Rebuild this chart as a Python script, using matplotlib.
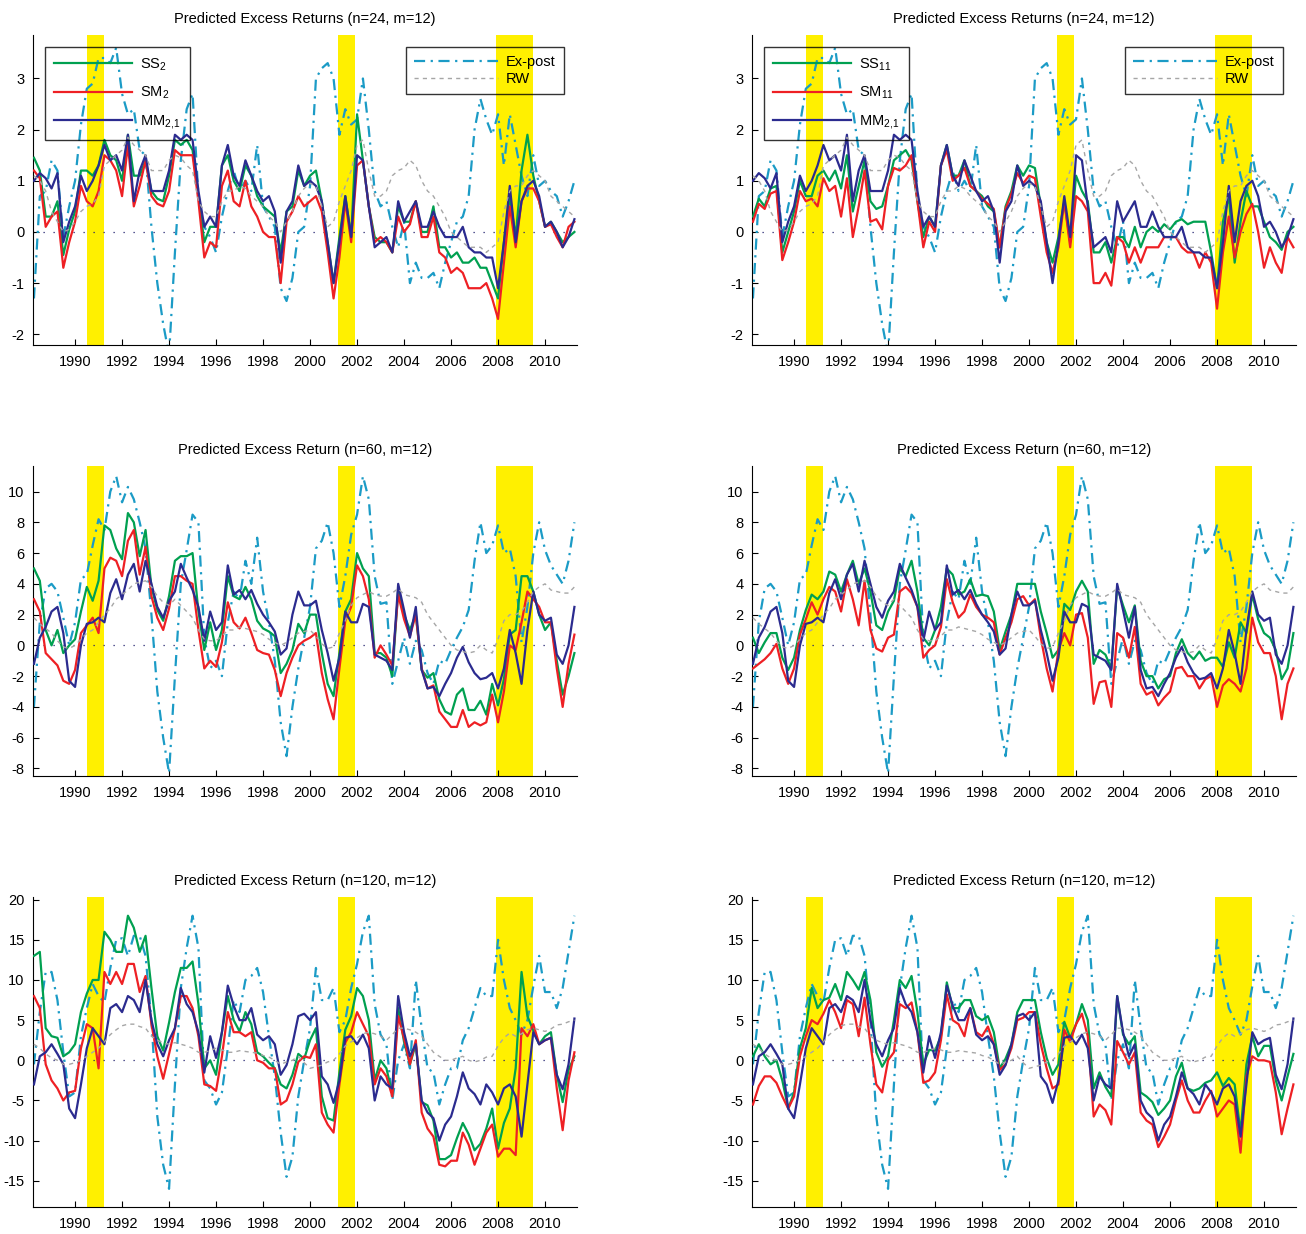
import numpy as np
import matplotlib
matplotlib.use('Agg')
import matplotlib.pyplot as plt
from matplotlib.ticker import MultipleLocator

plt.rcParams['font.family'] = ['Liberation Sans', 'DejaVu Sans']
plt.rcParams['mathtext.default'] = 'regular'
plt.rcParams['axes.unicode_minus'] = False

# quarterly sample points, 1988Q2 .. 2011Q2
dates = 1988.25 + 0.25 * np.arange(93)
recessions = [(1990.5, 1991.25), (2001.17, 2001.92), (2007.92, 2009.5)]
year_ticks = list(range(1990, 2011, 2))

# ---------------- n = 24 ----------------
mm_24 = [1.0, 1.15, 1.05,
         0.85, 1.15, -0.2, 0.2,   0.5, 1.1, 0.8, 1.0,   1.3, 1.7, 1.4, 1.5,
         1.2, 1.9, 0.6, 1.2,      1.5, 0.8, 0.8, 0.8,   1.2, 1.9, 1.8, 1.9,
         1.8, 0.8, 0.1, 0.3,      0.1, 1.3, 1.7, 1.1,   0.9, 1.4, 1.1, 0.8,
         0.6, 0.7, 0.4, -0.6,     0.4, 0.6, 1.3, 0.9,   1.0, 0.9, 0.6, -0.2,
         -1.0, -0.2, 0.7, -0.1,   1.5, 1.4, 0.5, -0.3,  -0.2, -0.1, -0.4, 0.6,
         0.2, 0.4, 0.6, 0.1,      0.1, 0.4, 0.1, -0.1,  -0.1, -0.1, 0.1, -0.3,
         -0.4, -0.4, -0.5, -0.5,  -1.1, -0.2, 0.9, -0.2, 0.6, 0.9, 1.0, 0.7,
         0.1, 0.2, 0.0, -0.3,     -0.1, 0.25]
ss2_24 = [1.45, 1.2, 0.3,
          0.3, 0.6, -0.45, 0.05,  0.4, 1.2, 1.2, 1.1,   1.3, 1.8, 1.5, 1.4,
          1.0, 1.9, 1.1, 1.1,     1.4, 0.8, 0.65, 0.6,  1.1, 1.8, 1.7, 1.8,
          1.6, 0.7, -0.2, 0.1,    0.1, 1.3, 1.5, 1.0,   0.8, 1.3, 1.1, 0.7,
          0.5, 0.4, 0.3, -0.4,    0.4, 0.5, 1.2, 0.9,   1.1, 1.2, 0.6, -0.2,
          -1.0, -0.1, 0.7, -0.1,  2.3, 1.4, 0.5, -0.1,  -0.2, -0.2, -0.4, 0.5,
          0.2, 0.2, 0.6, 0.0,     0.0, 0.5, -0.3, -0.3, -0.5, -0.4, -0.6, -0.6,
          -0.5, -0.7, -0.7, -1.0, -1.3, -0.2, 0.7, -0.1, 1.2, 1.9, 1.1, 0.6,
          0.1, 0.2, 0.0, -0.2,    -0.1, 0.0]
sm2_24 = [1.2, 1.05, 0.1,
          0.3, 0.4, -0.7, -0.2,   0.2, 0.9, 0.6, 0.5,   0.8, 1.5, 1.4, 1.2,
          0.7, 1.7, 0.5, 0.9,     1.4, 0.7, 0.55, 0.5,  0.8, 1.6, 1.5, 1.5,
          1.5, 0.6, -0.5, -0.2,   -0.3, 0.9, 1.2, 0.6,  0.5, 1.0, 0.5, 0.3,
          0.0, -0.1, -0.1, -1.0,  0.2, 0.4, 0.7, 0.5,   0.6, 0.7, 0.4, -0.4,
          -1.3, -0.5, 0.6, -0.2,  1.3, 1.4, 0.5, -0.2,  -0.1, -0.2, -0.4, 0.3,
          0.0, 0.15, 0.6, -0.1,   -0.1, 0.3, -0.4, -0.5, -0.8, -0.7, -0.8, -1.1,
          -1.1, -1.1, -1.0, -1.3, -1.7, -0.6, 0.5, -0.3, 0.6, 0.85, 0.85, 0.6,
          0.1, 0.15, -0.1, -0.3,  0.1, 0.2]
ss11_24 = [0.3, 0.65, 0.5,
           0.85, 0.9, -0.4, 0.0,  0.4, 1.0, 0.7, 0.7,   1.1, 1.2, 1.0, 1.2,
           0.85, 1.5, 0.4, 0.9,   1.4, 0.6, 0.45, 0.5,  0.9, 1.4, 1.5, 1.6,
           1.4, 0.6, -0.1, 0.3,   0.1, 1.3, 1.7, 1.1,   1.1, 1.4, 0.9, 0.8,
           0.7, 0.5, 0.4, -0.3,   0.5, 0.8, 1.3, 1.1,   1.3, 1.25, 0.5, -0.2,
           -0.6, -0.1, 0.6, -0.2, 1.1, 0.8, 0.6, -0.4,  -0.4, -0.2, -0.6, -0.1,
           -0.1, -0.3, 0.1, -0.3, 0.0, 0.1, 0.0, 0.15,  0.05, 0.2, 0.25, 0.15,
           0.2, 0.2, 0.2, -0.4,   -1.1, 0.2, 0.7, -0.6, 0.2, 0.8, 0.5, 0.5,
           0.2, -0.1, -0.2, -0.35, 0.0, 0.1]
sm11_24 = [0.2, 0.55, 0.45,
           0.75, 0.8, -0.55, -0.2, 0.2, 0.8, 0.6, 0.65, 0.5, 1.05, 0.8, 0.9,
           0.3, 1.05, -0.1, 0.5,  1.2, 0.2, 0.25, 0.05, 0.9, 1.25, 1.2, 1.3,
           1.5, 0.6, -0.3, 0.2,   0.0, 1.3, 1.6, 1.0,   1.1, 1.25, 0.9, 0.8,
           0.65, 0.55, 0.45, -0.3, 0.45, 0.75, 1.15, 0.95, 1.1, 1.05, 0.3, -0.4,
           -0.8, -0.3, 0.6, -0.3, 0.7, 0.6, 0.4, -1.0,  -1.0, -0.8, -1.05, -0.1,
           -0.2, -0.6, -0.3, -0.6, -0.3, -0.3, -0.3, -0.1, -0.1, -0.1, -0.3, -0.4,
           -0.4, -0.7, -0.4, -0.6, -1.5, -0.4, 0.3, -0.5, 0.0, 0.35, 0.55, 0.0,
           -0.7, -0.3, -0.6, -0.8, -0.1, -0.3]
expost_24 = [-1.3, 0.7, 0.8,
             1.4, 1.2, -0.1, 0.5,   1.0, 2.1, 2.8, 2.9,   3.4, 3.4, 3.3, 3.6,
             2.7, 2.3, 2.4, 1.6,    1.5, 0.1, -1.0, -1.8, -2.4, -0.4, 1.4, 2.4,
             2.7, 0.7, 0.1, -0.1,   -0.4, 0.3, 0.8, 1.2,  0.8, 1.0, 0.8, 1.7,
             0.5, 0.3, 0.1, -1.1,   -1.35, -0.9, 0.0, 0.1, 0.9, 3.0, 3.2, 3.3,
             3.0, 1.9, 2.4, 2.1,    2.2, 3.0, 2.0, 0.8,   0.5, 0.6, 0.1, -0.3,
             0.2, -1.0, -0.6, -0.9, -0.9, -0.8, -1.1, -0.6, -0.2, 0.2, 0.3, 0.7,
             2.0, 2.6, 2.2, 1.9,    2.3, 1.3, 2.3, 1.7,   1.1, 0.7, 1.5, 0.9,
             1.0, 0.8, 0.7, 0.3,    0.6, 1.0]
rw_24 = [1.1, 1.0, 0.8,
         0.4, 0.2, 0.0, 0.05,   0.2, 0.4, 0.5, 0.55,  0.7, 1.3, 1.4, 1.5,
         1.6, 1.85, 1.7, 1.6,   1.5, 1.2, 1.2, 1.2,   1.4, 1.5, 1.45, 1.3,
         1.2, 0.6, 0.4, 0.3,    0.3, 0.6, 0.8, 0.8,   0.9, 0.85, 0.7, 0.6,
         0.5, 0.3, 0.2, 0.0,    0.2, 0.4, 0.7, 0.85,  0.95, 0.9, 0.5, 0.1,
         0.2, 0.6, 0.9, 1.2,    1.7, 1.8, 1.2, 0.7,   0.7, 0.8, 1.1, 1.2,
         1.25, 1.4, 1.3, 1.0,   0.8, 0.7, 0.5, 0.3,   0.0, -0.1, -0.2, -0.3,
         -0.3, -0.3, -0.4, -0.3, -0.2, 0.4, 0.8, 0.9, 0.9, 1.1, 1.2, 1.1,
         1.0, 0.7, 0.6, 0.5,    0.4, 0.3]

# ---------------- n = 60 ----------------
mm_60 = [-1.2, 0.5, 1.2,
         2.2, 2.5, 0.8, -2.3,   -2.7, 0.0, 1.4, 1.5,  1.8, 1.5, 3.4, 4.3,
         3.0, 4.6, 5.3, 3.5,    5.5, 4.0, 2.5, 1.8,   2.9, 3.5, 5.3, 4.4,
         3.6, 2.5, 0.3, 2.2,    1.0, 1.5, 5.2, 3.3,   3.6, 3.0, 3.6, 2.7,
         2.0, 1.5, 0.9, -0.6,   -0.2, 2.0, 3.5, 2.6,  2.6, 2.9, 1.0, -0.5,
         -2.3, -0.8, 2.2, 1.5,  1.5, 2.7, 2.5, -0.6,  -0.8, -1.0, -1.6, 4.0,
         2.3, 0.5, 2.5, -1.6,   -2.8, -2.7, -3.3, -2.5, -1.8, -0.8, -0.1, -1.1,
         -1.8, -2.2, -2.1, -1.8, -2.8, -1.5, 1.0, -0.5, -2.5, 1.0, 3.5, 2.0,
         1.6, 1.8, -0.6, -1.2,  0.0, 2.5]
ss2_60 = [5.0, 4.2, 1.0,
          0.0, 1.0, -0.5, 0.0,  0.4, 2.2, 3.8, 2.9,   4.2, 7.8, 7.5, 6.3,
          5.6, 8.6, 8.0, 5.8,   7.5, 3.8, 2.3, 1.6,   3.2, 5.5, 5.8, 5.8,
          6.0, 2.2, -0.3, 1.5,  -0.3, 1.0, 4.5, 3.2,  3.0, 3.8, 3.0, 1.6,
          1.1, 0.9, 0.6, -1.8,  -1.2, -0.3, 1.4, 0.8, 2.0, 2.0, -0.5, -2.5,
          -3.3, -0.5, 2.2, 3.0, 6.0, 5.0, 4.5, -0.5,  -0.5, -0.8, -2.0, 3.6,
          2.0, 1.0, 2.0, -1.6,  -2.1, -1.8, -3.5, -4.3, -4.5, -3.2, -2.8, -4.2,
          -4.2, -3.6, -4.5, -2.5, -3.9, -2.2, 0.7, 1.0, 4.5, 4.5, 3.5, 2.0,
          1.0, 1.5, -1.0, -3.2, -2.0, -0.5]
sm2_60 = [3.0, 2.2, -0.5,
          -0.9, -1.3, -2.3, -2.5, -1.6, 0.8, 1.3, 1.8, 0.8, 5.0, 5.7, 5.5,
          4.5, 6.8, 7.5, 4.6,   6.4, 3.2, 1.8, 1.0,   2.4, 4.5, 4.5, 4.2,
          4.0, 1.0, -1.5, -1.0, -1.4, 0.2, 2.8, 1.5,  1.1, 1.8, 0.8, -0.3,
          -0.5, -0.6, -1.6, -3.3, -1.8, -0.8, 0.0, 0.3, 0.5, 0.8, -1.8, -3.5,
          -4.8, -1.5, 1.6, 2.5, 5.2, 4.5, 3.0, -0.8,  0.0, -0.6, -1.3, 3.3,
          1.7, 0.6, 2.0, -1.5,  -2.8, -2.6, -4.3, -4.8, -5.3, -5.3, -4.2, -5.3,
          -5.0, -5.2, -5.0, -3.2, -5.0, -3.0, 0.0, -0.3, 1.5, 3.5, 3.0, 2.5,
          1.5, 1.5, -1.5, -4.0, -1.2, 0.7]
ss11_60 = [0.5, -0.5, 0.2,
           0.8, 0.8, -0.8, -1.6, -0.8, 1.0, 2.3, 3.3,  3.0, 3.5, 4.8, 4.6,
           3.5, 4.6, 5.5, 4.0,   5.0, 3.5, 1.3, 1.0,   2.2, 2.9, 5.0, 4.5,
           5.5, 3.5, 0.5, 0.0,   1.0, 2.5, 5.0, 4.6,   3.3, 3.5, 4.3, 3.2,
           3.3, 3.2, 2.2, -0.3,  0.9, 2.0, 4.0, 4.0,   4.0, 4.0, 2.2, 0.8,
           -0.8, -0.3, 2.7, 2.3, 3.5, 4.2, 3.5, -1.2,  -0.3, -0.6, -1.5, 3.8,
           2.6, 1.5, 2.6, -1.0,  -2.0, -2.0, -2.8, -2.2, -2.0, -0.5, 0.4, -0.5,
           -0.9, -0.4, -1.0, -0.8, -0.8, -1.4, 0.2, -0.8, 1.5, 0.8, 3.3, 1.7,
           0.8, 0.5, -0.3, -2.2, -1.5, 0.8]
sm11_60 = [-1.5, -1.2, -0.9,
           -0.5, 0.1, -1.5, -2.5, -1.5, 0.7, 1.7, 2.8, 2.0, 3.0, 3.8, 3.5,
           2.2, 4.3, 3.0, 1.3,   4.2, 1.0, -0.2, -0.4, 0.5, 0.7, 3.5, 3.8,
           3.4, 2.5, -0.8, -0.3, 0.0, 1.2, 4.3, 2.8,   1.8, 2.2, 3.3, 2.5,
           2.0, 1.8, 1.5, -0.6,  0.5, 1.5, 3.0, 3.2,   2.6, 3.0, 0.5, -1.5,
           -3.0, -0.3, 0.8, 0.0, 2.0, 2.1, 0.5, -3.8,  -2.4, -2.3, -4.0, 0.8,
           0.5, -0.8, 1.2, -2.5, -3.2, -3.0, -3.9, -3.4, -3.0, -1.5, -1.4, -2.0,
           -2.0, -2.8, -2.2, -2.0, -4.0, -2.6, -2.2, -2.5, -3.0, -1.5, 1.8, 0.2,
           -0.5, -0.5, -2.0, -4.8, -2.5, -1.5]
expost_60 = [-4.0, 1.5, 3.7,
             4.0, 3.5, 1.8, 0.0,    1.5, 4.3, 4.6, 6.5,   8.2, 7.5, 10.0, 11.0,
             9.3, 10.3, 9.5, 8.0,   6.3, 2.0, -3.0, -6.0, -8.3, -2.0, 4.0, 6.2,
             8.5, 8.0, 0.5, -1.5,   -1.0, -2.0, 1.5, 3.5, 3.0, 5.5, 4.0, 7.0,
             3.5, 1.5, -1.0, -5.0,  -7.2, -4.0, -1.5, 0.5, 2.5, 6.3, 6.8, 8.0,
             6.0, 2.5, 4.5, 7.2,    8.5, 11.0, 9.5, 4.5,  2.7, 2.8, -2.5, -1.0,
             0.5, -1.2, 0.3, -0.3,  -1.8, -2.5, -1.0, -1.2, -0.3, 0.5, 1.2, 2.3,
             5.5, 8.0, 6.0, 6.5,    7.8, 6.0, 6.3, 4.5,   0.2, 2.5, 6.0, 8.0,
             6.2, 5.2, 4.6, 4.0,    5.5, 8.0]
rw_60 = [1.8, 1.4, 1.1,
         0.8, 0.3, -0.1, -0.2,  0.0, 0.4, 0.8, 1.0,   1.5, 2.0, 2.4, 3.0,
         3.3, 3.6, 4.0, 4.1,    4.2, 3.8, 3.2, 2.8,   2.6, 3.0, 2.6, 2.2,
         1.8, 1.0, 0.4, 0.3,    0.3, 0.6, 1.0, 1.0,   1.2, 1.1, 1.0, 0.9,
         0.7, 0.4, 0.2, 0.0,    0.2, 0.5, 0.8, 0.9,   1.0, 0.6, 0.1, -0.2,
         -0.1, 0.8, 1.6, 2.6,   3.1, 3.3, 3.5, 3.3,   3.2, 3.2, 3.4, 3.7,
         3.3, 3.2, 3.1, 2.8,    2.0, 1.5, 1.0, 0.5,   0.0, -0.3, -0.4, -0.5,
         -0.4, 0.0, -0.3, -0.5, 0.4, 1.6, 2.0, 2.0,   2.2, 2.8, 3.5, 3.8,
         4.0, 3.6, 3.5, 3.4,    3.4, 3.8]

# ---------------- n = 120 ----------------
mm_120 = [-3.0, 0.5, 1.0,
          2.0, 0.8, -0.5, -6.0,  -7.2, -3.0, 1.5, 4.0,  3.0, 2.0, 6.5, 7.0,
          6.0, 8.0, 7.5, 6.0,    10.0, 5.0, 2.0, 0.5,  2.5, 4.0, 9.0, 7.0,
          6.0, 3.5, -1.5, 3.0,   0.3, 3.5, 9.3, 6.8,   5.0, 5.0, 6.5, 3.2,
          2.5, 3.0, 2.0, -1.8,   -0.6, 2.0, 5.5, 5.8,  5.0, 6.0, -2.0, -3.0,
          -5.3, -2.5, 2.8, 3.0,  2.0, 3.2, 1.5, -5.0,  -2.0, -3.0, -3.5, 8.0,
          3.5, 0.5, 2.0, -5.0,   -6.5, -7.2, -10.0, -8.0, -7.0, -4.5, -1.5, -3.5,
          -4.2, -5.5, -3.0, -4.0, -5.5, -3.5, -3.0, -4.5, -9.5, -3.0, 3.5, 2.0,
          2.5, 2.8, -1.8, -3.6,  -0.5, 5.2]
ss2_120 = [13.0, 13.5, 4.0,
           3.0, 2.8, 0.5, 1.0,    2.0, 6.0, 8.3, 10.0,  10.0, 16.0, 15.0, 13.5,
           13.5, 18.0, 16.5, 13.5, 15.5, 9.0, 3.0, 1.2, 4.7, 8.5, 11.5, 11.5,
           12.3, 7.0, -1.0, 0.0,  -1.8, 3.5, 8.0, 5.0,  3.6, 6.0, 4.5, 1.0,
           0.5, -0.3, -1.0, -3.0, -3.5, -1.8, 0.8, 0.2, 2.5, 4.0, -4.5, -7.2,
           -7.5, -1.5, 3.8, 5.5,  9.0, 8.0, 5.0, -2.5,  0.0, -1.0, -4.2, 6.5,
           2.3, -0.5, 2.0, -5.2,  -5.6, -7.5, -12.3, -12.3, -11.8, -9.7, -7.8, -9.2,
           -11.2, -10.4, -8.5, -6.0, -11.0, -7.8, -6.0, -1.0, 11.0, 5.5, 3.7, 2.0,
           3.0, 3.5, -1.8, -5.2,  -1.2, 0.5]
sm2_120 = [8.0, 6.5, -0.5,
           -2.5, -3.5, -5.0, -4.0, -3.8, 1.5, 4.5, 4.0, -1.0, 11.0, 9.5, 11.0,
           9.5, 12.0, 12.0, 8.5,  10.5, 4.5, 0.5, -2.3, 0.8, 4.0, 8.0, 8.0,
           6.5, 3.0, -3.0, -3.2,  -3.8, 0.5, 6.0, 3.5,  3.5, 3.0, 3.5, 0.0,
           -0.3, -1.0, -1.0, -5.5, -5.0, -3.0, -0.2, 0.5, 0.3, 2.0, -6.5, -8.0,
           -9.0, -3.0, 2.2, 3.5,  6.0, 4.5, 3.0, -3.0,  -1.0, -2.0, -4.5, 5.5,
           2.7, -0.5, 2.5, -6.5,  -8.5, -9.5, -13.0, -13.2, -12.5, -12.5, -9.0, -10.5,
           -13.0, -11.0, -9.0, -8.0, -12.0, -11.0, -11.0, -11.8, 4.0, 3.0, 4.5, 2.0,
           2.5, 2.8, -3.5, -8.7,  -2.5, 1.0]
ss11_120 = [0.5, 2.0, 0.5,
            -0.5, 0.0, -2.5, -6.0, -4.0, 1.5, 4.0, 9.0,  6.5, 7.5, 7.8, 9.5,
            7.5, 11.0, 10.0, 8.8,  11.0, 7.5, 1.0, -0.8, 0.5, 5.0, 10.0, 9.0,
            10.5, 6.0, -0.5, 1.3,  1.2, 3.0, 9.7, 6.5,  6.5, 7.5, 7.5, 5.5,
            5.0, 5.5, 3.5, -1.0,   0.2, 2.0, 6.0, 7.5,  7.5, 7.5, 3.5, 0.3,
            -1.8, -0.5, 4.8, 2.8,  4.5, 7.0, 5.0, -3.5, -1.5, -3.3, -4.5, 8.0,
            3.2, 2.0, 3.0, -4.0,   -4.5, -5.2, -6.8, -6.0, -5.0, -2.0, -0.3, -3.5,
            -3.8, -3.5, -2.8, -2.5, -1.5, -3.2, -2.2, -3.0, -9.0, -0.5, 3.0, 0.5,
            1.8, 1.8, -2.5, -5.0,  -2.0, 0.8]
sm11_120 = [-5.5, -3.2, -2.0,
            -2.0, -2.8, -4.5, -6.0, -4.5, 0.5, 3.0, 5.0, 4.5, 5.8, 7.5, 6.0,
            4.0, 7.5, 7.0, 3.0,    7.8, 2.0, -3.0, -4.0, 0.0, 1.0, 7.0, 6.5,
            7.2, 3.5, -2.8, -2.5,  -1.5, 2.5, 8.2, 5.0,  4.5, 3.0, 6.5, 3.5,
            3.0, 4.2, 2.0, -1.2,   -0.5, 1.5, 5.0, 5.3,  6.0, 6.0, 2.0, -1.0,
            -3.5, -3.0, 3.8, 2.3,  4.5, 5.8, 3.0, -7.0,  -5.5, -6.2, -8.0, 2.4,
            1.0, -0.5, 1.0, -6.5,  -7.5, -8.0, -10.8, -9.5, -8.0, -5.0, -2.5, -5.0,
            -6.5, -6.5, -5.0, -3.8, -7.0, -6.0, -5.0, -5.5, -11.5, -2.0, 0.5, 0.0,
            0.0, -0.2, -4.0, -9.2, -6.0, -3.0]
expost_120 = [-0.5, 6.0, 11.0,
              11.0, 7.5, 1.0, -4.5,  -4.0, 3.0, 6.5, 9.5,   8.0, 7.2, 11.5, 15.0,
              15.2, 13.0, 15.5, 15.5, 13.0, 5.0, -7.0, -13.0, -16.0, -3.0, 9.0, 14.0,
              18.0, 14.0, -2.5, -3.5, -5.5, -4.0, 1.5, 7.5, 6.0, 10.0, 10.5, 11.5,
              8.5, 3.0, -2.0, -9.0,  -14.5, -12.0, -4.5, 0.0, 4.0, 11.5, 7.5, 7.5,
              9.0, 3.5, 5.0, 9.0,    12.0, 16.0, 18.0, 7.0, 3.2, 2.0, -5.0, 0.0,
              2.0, -1.0, 10.0, 4.0,  -1.0, -1.5, -5.5, -3.0, -1.0, -1.0, 2.5, 4.0,
              6.5, 9.0, 8.0, 8.0,    15.0, 10.0, 6.5, 5.0, 3.2, 5.0, 9.2, 13.0,
              8.5, 8.5, 6.5, 9.0,    13.5, 18.0]
rw_120 = [2.0, 1.5, 0.8,
          0.3, 0.0, -0.5, -0.5,  -0.3, 0.0, 0.5, 1.0,  1.5, 2.3, 3.2, 3.8,
          4.3, 4.5, 4.5, 4.2,    4.0, 3.0, 2.5, 2.2,   2.0, 2.2, 2.0, 1.8,
          1.5, 1.0, 1.0, 1.2,    1.5, 1.3, 1.0, 1.0,   1.2, 1.1, 1.0, 0.9,
          0.6, 0.4, 0.0, -0.5,   -0.2, 0.0, 0.5, -0.3, -1.0, -0.8, -0.6, -0.2,
          0.0, 0.8, 1.8, 2.3,    2.8, 3.3, 3.5, 3.3,   3.0, 2.5, 3.2, 4.0,
          4.0, 3.8, 3.5, 3.0,    2.0, 1.0, 0.5, 0.0,   0.0, 0.3, 0.5, 0.0,
          -0.2, 0.0, 0.4, 0.5,   1.8, 2.8, 3.4, 3.0,   3.3, 3.8, 4.0, 3.8,
          3.6, 3.9, 4.4, 4.5,    4.8, 5.0]

GREEN = '#00A050'
RED = '#EE2024'
NAVY = '#2B2B8F'
CYAN = '#1B9BC6'
GRAY = '#A6A6A6'
YELLOW = '#FFF000'

rows = [
    dict(title='Predicted Excess Returns (n=24, m=12)', ylim=(-2.21, 3.85), ystep=1,
         mm=mm_24, expost=expost_24, rw=rw_24,
         left=(ss2_24, sm2_24), right=(ss11_24, sm11_24)),
    dict(title='Predicted Excess Return (n=60, m=12)', ylim=(-8.49, 11.66), ystep=2,
         mm=mm_60, expost=expost_60, rw=rw_60,
         left=(ss2_60, sm2_60), right=(ss11_60, sm11_60)),
    dict(title='Predicted Excess Return (n=120, m=12)', ylim=(-18.26, 20.33), ystep=5,
         mm=mm_120, expost=expost_120, rw=rw_120,
         left=(ss2_120, sm2_120), right=(ss11_120, sm11_120)),
]
labels_left = ['SS$_{2}$ ', 'SM$_{2}$ ', 'MM$_{2{,}1}$ ']
labels_right = ['SS$_{11}$ ', 'SM$_{11}$ ', 'MM$_{2{,}1}$ ']

fig = plt.figure(figsize=(13.06, 12.34), dpi=100)
W, H = 1306, 1234
col_x = [33, 752]
row_top = [35, 466, 897]
aw, ah = 544, 310

for r, row in enumerate(rows):
    for c in range(2):
        ss, sm = row['left'] if c == 0 else row['right']
        labels = labels_left if c == 0 else labels_right
        for s in (ss, sm, row['mm'], row['expost'], row['rw']):
            assert len(s) == len(dates)
        ax = fig.add_axes([col_x[c] / W, 1 - (row_top[r] + ah) / H, aw / W, ah / H])
        for a, b in recessions:
            ax.axvspan(a, b, color=YELLOW, lw=0, zorder=0)
        ax.axhline(0, color='#22226E', ls=(0, (1, 7)), lw=0.9, zorder=1)
        h_ex, = ax.plot(dates, row['expost'], color=CYAN, lw=1.6,
                        dashes=(5, 2.5, 1, 2.5), zorder=2)
        h_ss, = ax.plot(dates, ss, color=GREEN, lw=1.6, zorder=3)
        h_sm, = ax.plot(dates, sm, color=RED, lw=1.6, zorder=3)
        h_mm, = ax.plot(dates, row['mm'], color=NAVY, lw=1.6, zorder=3)
        h_rw, = ax.plot(dates, row['rw'], color=GRAY, lw=1.0,
                        dashes=(3, 3), zorder=4)

        ax.set_xlim(1988.21, 2011.36)
        ax.set_ylim(*row['ylim'])
        ax.set_xticks(year_ticks)
        ax.yaxis.set_major_locator(MultipleLocator(row['ystep']))
        ax.spines['top'].set_visible(False)
        ax.spines['right'].set_visible(False)
        ax.tick_params(direction='in', length=4, width=0.8, labelsize=10.5)
        ax.tick_params(axis='x', pad=7)
        ax.tick_params(axis='y', pad=6)
        ax.set_title(row['title'], fontsize=10.5, pad=9)

        if r == 0:
            leg1 = ax.legend([h_ss, h_sm, h_mm], labels, loc='upper left',
                             bbox_to_anchor=(0.022, 0.961), borderaxespad=0,
                             fontsize=10.5, handlelength=5.3, handletextpad=0.55,
                             labelspacing=0.8, borderpad=0.65, fancybox=False,
                             edgecolor='black')
            leg1.get_frame().set_facecolor('none')
            leg1.get_frame().set_linewidth(1.0)
            ax.add_artist(leg1)
            leg2 = ax.legend([h_ex, h_rw], ['Ex-post', 'RW'], loc='upper right',
                             bbox_to_anchor=(0.976, 0.961), borderaxespad=0,
                             fontsize=10.5, handlelength=5.8, handletextpad=0.55,
                             labelspacing=0.2, borderpad=0.55, fancybox=False,
                             edgecolor='black')
            leg2.get_frame().set_facecolor('none')
            leg2.get_frame().set_linewidth(1.0)

fig.savefig('out.png', dpi=100)
